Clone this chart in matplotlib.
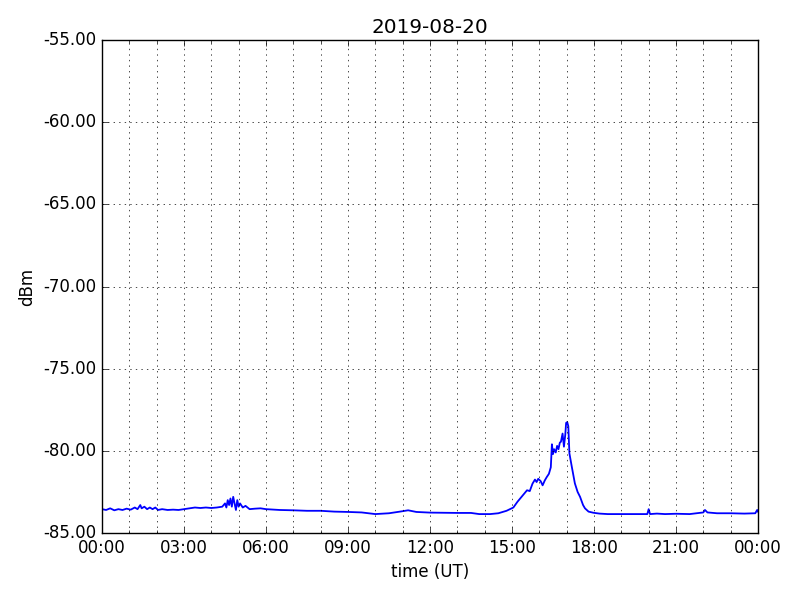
import datetime as dt
import matplotlib
matplotlib.use("Agg")
import matplotlib.pyplot as plt
import matplotlib.dates as mdates
from matplotlib.ticker import FormatStrFormatter

plt.style.use('classic')

# hours since midnight UT and signal level (dBm)
hours = [0.00, 0.15, 0.30, 0.45, 0.60, 0.75, 0.90, 1.05, 1.20, 1.30,
         1.40, 1.45, 1.55, 1.65, 1.75, 1.85, 1.95, 2.05, 2.20, 2.40,
         2.60, 2.80, 3.00, 3.20, 3.40, 3.60, 3.80, 4.00, 4.20, 4.40,
         4.50, 4.55, 4.60, 4.65, 4.70, 4.75, 4.80, 4.85, 4.90, 4.95,
         5.00, 5.05, 5.15, 5.25, 5.40, 5.60, 5.80, 6.00, 6.50, 7.00,
         7.50, 8.00, 8.50, 9.00, 9.50, 10.00, 10.50, 10.90, 11.20, 11.50,
         12.00, 12.50, 13.00, 13.50, 13.80, 14.20, 14.50, 14.80, 15.05, 15.20,
         15.35, 15.50, 15.55, 15.65, 15.75, 15.84, 15.90, 15.96, 16.05, 16.12,
         16.20, 16.27, 16.35, 16.42, 16.46, 16.50, 16.54, 16.60, 16.65, 16.70,
         16.75, 16.79, 16.85, 16.90, 16.95, 16.98, 17.02, 17.06, 17.10, 17.18,
         17.30, 17.40, 17.49, 17.60, 17.67, 17.80, 17.98, 18.20, 18.50, 19.00,
         19.50, 19.95, 20.00, 20.05, 20.30, 20.60, 21.00, 21.50, 22.00, 22.06,
         22.15, 22.50, 23.00, 23.50, 23.90, 23.97, 24.00]
dbm = [-83.55, -83.60, -83.50, -83.62, -83.55, -83.60, -83.52, -83.58, -83.45, -83.55,
       -83.30, -83.50, -83.40, -83.55, -83.45, -83.55, -83.45, -83.60, -83.55, -83.60,
       -83.58, -83.60, -83.55, -83.50, -83.45, -83.48, -83.45, -83.48, -83.45, -83.40,
       -83.20, -83.45, -83.00, -83.30, -82.90, -83.40, -82.80, -83.20, -83.60, -83.00,
       -83.40, -83.20, -83.45, -83.35, -83.55, -83.52, -83.50, -83.55, -83.60, -83.62,
       -83.65, -83.65, -83.70, -83.72, -83.75, -83.85, -83.80, -83.70, -83.62, -83.72,
       -83.76, -83.77, -83.78, -83.78, -83.85, -83.85, -83.80, -83.65, -83.45, -83.10,
       -82.80, -82.50, -82.40, -82.45, -82.00, -81.75, -81.90, -81.70, -81.85, -82.10,
       -81.80, -81.60, -81.40, -81.00, -79.60, -80.20, -79.90, -80.10, -79.70, -79.90,
       -79.50, -79.45, -78.95, -79.75, -79.00, -78.30, -78.25, -78.50, -80.15, -80.90,
       -81.98, -82.50, -82.80, -83.30, -83.50, -83.70, -83.77, -83.82, -83.85, -83.85,
       -83.85, -83.85, -83.55, -83.85, -83.82, -83.85, -83.83, -83.85, -83.75, -83.60,
       -83.75, -83.80, -83.80, -83.82, -83.80, -83.60, -83.70]

day = dt.datetime(2019, 8, 20)
times = [day + dt.timedelta(hours=h) for h in hours]

fig = plt.figure(figsize=(8, 6), dpi=100)
ax = fig.add_subplot(1, 1, 1)
fig.subplots_adjust(left=0.1275, right=0.9475, top=0.9333, bottom=0.1117)

ax.plot(times, dbm, color='b', linewidth=1.3)

ax.set_xlim(day, day + dt.timedelta(hours=24))
ax.set_ylim(-85, -55)
ax.xaxis.set_major_locator(mdates.HourLocator(byhour=range(0, 24, 3)))
ax.xaxis.set_minor_locator(mdates.HourLocator())
ax.xaxis.set_major_formatter(mdates.DateFormatter('%H:%M'))
ax.yaxis.set_major_formatter(FormatStrFormatter('%.2f'))
ax.grid(True, which='both')

ax.set_title('2019-08-20')
ax.set_xlabel('time (UT)')
ax.set_ylabel('dBm')

fig.savefig('out.png', dpi=100, facecolor='white')
